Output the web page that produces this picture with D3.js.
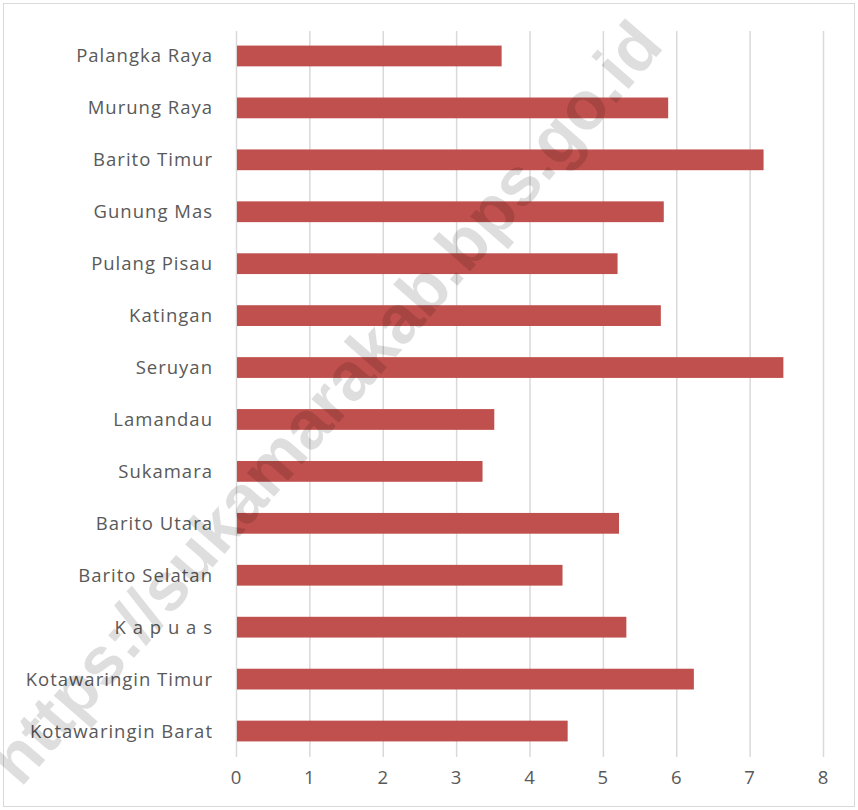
<!DOCTYPE html>
<html><head><meta charset="utf-8">
<script src="https://cdn.jsdelivr.net/npm/d3@7"></script>
<style>body{margin:0;background:#fff}</style>
</head><body>
<script>
const categories = ["Palangka Raya","Murung Raya","Barito Timur","Gunung Mas","Pulang Pisau","Katingan","Seruyan","Lamandau","Sukamara","Barito Utara","Barito Selatan","K a p u a s","Kotawaringin Timur","Kotawaringin Barat"];
const values = [3.62,5.89,7.19,5.83,5.20,5.79,7.46,3.52,3.36,5.22,4.45,5.32,6.24,4.52];
const xTicks = [0,1,2,3,4,5,6,7,8];
const watermark = "https://sukamarakab.bps.go.id";

const W = 858, H = 810;
const svg = d3.select("body").append("svg").attr("width", W).attr("height", H);
svg.append("rect").attr("x",3.5).attr("y",3.5).attr("width",W-7).attr("height",H-7)
  .attr("fill","#fff").attr("stroke","#d9d9d9").attr("stroke-width",1);

const x = d3.scaleLinear().domain([0,8]).range([236,823]);
const y = d3.scaleBand().domain(categories).range([30,757]).paddingInner(0.6).paddingOuter(0.3);

const g = svg.append("g");
g.selectAll("line.grid").data(xTicks).join("line").attr("class","grid")
  .attr("x1",d=>x(d)+0.5).attr("x2",d=>x(d)+0.5).attr("y1",31).attr("y2",757)
  .attr("stroke","#d9d9d9").attr("stroke-width",1.5);

g.selectAll("rect.bar").data(values).join("rect").attr("class","bar")
  .attr("x",x(0)+1).attr("y",(d,i)=>y(categories[i]))
  .attr("width",d=>x(d)-x(0)-1).attr("height",y.bandwidth())
  .attr("fill","#c0504d");

const font = "'Open Sans', sans-serif";
g.selectAll("text.cat").data(categories).join("text").attr("class","cat")
  .attr("x",213).attr("y",d=>y(d)+y.bandwidth()/2).attr("dy","0.35em")
  .attr("text-anchor","end").attr("fill","#595959")
  .style("font-family",font).style("font-size","18.5px").style("letter-spacing","1px").text(d=>d);

g.selectAll("text.tick").data(xTicks).join("text").attr("class","tick")
  .attr("x",d=>x(d)).attr("y",778).attr("dy","0.35em")
  .attr("text-anchor","middle").attr("fill","#595959")
  .style("font-family",font).style("font-size","18.5px").text(d=>d);

svg.append("text").attr("transform","translate(325,402) rotate(-49)")
  .attr("text-anchor","middle").attr("dy","0.35em")
  .attr("fill","#000").attr("fill-opacity",0.13)
  .style("font-family","'Liberation Sans', Arial, sans-serif").style("font-weight","bold")
  .style("font-size","68px").text(watermark);
</script>
</body></html>
